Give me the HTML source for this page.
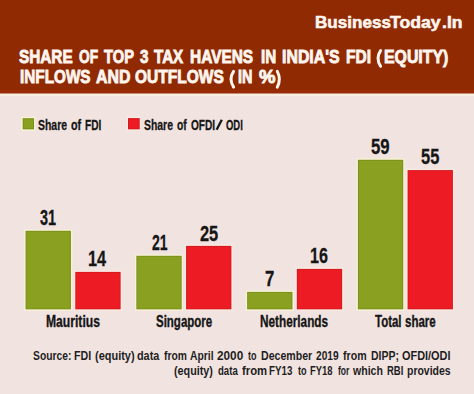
<!DOCTYPE html>
<html><head><meta charset="utf-8">
<style>
html,body{margin:0;padding:0}
body{width:474px;height:394px;position:relative;overflow:hidden;background:#f1e3e0;font-family:"Liberation Sans",sans-serif}
.hdr{position:absolute;left:0;top:0;width:474px;height:93px;background:#8f2a02}
.w{position:absolute;white-space:nowrap;transform-origin:0 0;line-height:1}
.b{position:absolute}
.g{background:#8aa020;box-shadow:0 0 0 1px rgba(246,248,205,.75),inset 0 0 0 1px rgba(60,70,0,.12)}
.r{background:#ed1c24;box-shadow:0 0 0 1px rgba(255,236,230,.75),inset 0 0 0 1px rgba(90,0,0,.12)}
</style></head><body>
<div class="hdr"></div>
<div class="b" style="left:0;top:90px;width:474px;height:3px;background:#982a08"></div>
<div class="b" style="left:0;top:93px;width:474px;height:1px;background:#c48a72"></div>
<div class="b" style="left:0;top:94px;width:474px;height:2px;background:#f8efe2"></div>
<svg style="position:absolute;left:0;top:0" width="474" height="394">
<rect x="24.20" y="229.40" width="48.10" height="81.30" fill="#f7f6d2" opacity=".8"/>
<rect x="25.60" y="230.80" width="45.30" height="78.50" fill="#8aa020"/>
<rect x="26.10" y="231.30" width="44.30" height="77.50" fill="none" stroke="#000" stroke-opacity=".10" stroke-width="1"/>
<rect x="73.90" y="270.50" width="48.10" height="40.20" fill="#fdebe2" opacity=".8"/>
<rect x="75.30" y="271.90" width="45.30" height="37.40" fill="#ed1c24"/>
<rect x="75.80" y="272.40" width="44.30" height="36.40" fill="none" stroke="#000" stroke-opacity=".10" stroke-width="1"/>
<rect x="134.97" y="254.40" width="48.10" height="56.30" fill="#f7f6d2" opacity=".8"/>
<rect x="136.37" y="255.80" width="45.30" height="53.50" fill="#8aa020"/>
<rect x="136.87" y="256.30" width="44.30" height="52.50" fill="none" stroke="#000" stroke-opacity=".10" stroke-width="1"/>
<rect x="184.67" y="244.50" width="48.10" height="66.20" fill="#fdebe2" opacity=".8"/>
<rect x="186.07" y="245.90" width="45.30" height="63.40" fill="#ed1c24"/>
<rect x="186.57" y="246.40" width="44.30" height="62.40" fill="none" stroke="#000" stroke-opacity=".10" stroke-width="1"/>
<rect x="245.74" y="290.50" width="48.10" height="20.20" fill="#f7f6d2" opacity=".8"/>
<rect x="247.14" y="291.90" width="45.30" height="17.40" fill="#8aa020"/>
<rect x="247.64" y="292.40" width="44.30" height="16.40" fill="none" stroke="#000" stroke-opacity=".10" stroke-width="1"/>
<rect x="295.44" y="267.50" width="48.10" height="43.20" fill="#fdebe2" opacity=".8"/>
<rect x="296.84" y="268.90" width="45.30" height="40.40" fill="#ed1c24"/>
<rect x="297.34" y="269.40" width="44.30" height="39.40" fill="none" stroke="#000" stroke-opacity=".10" stroke-width="1"/>
<rect x="356.51" y="158.40" width="48.10" height="152.30" fill="#f7f6d2" opacity=".8"/>
<rect x="357.91" y="159.80" width="45.30" height="149.50" fill="#8aa020"/>
<rect x="358.41" y="160.30" width="44.30" height="148.50" fill="none" stroke="#000" stroke-opacity=".10" stroke-width="1"/>
<rect x="406.21" y="168.70" width="48.10" height="142.00" fill="#fdebe2" opacity=".8"/>
<rect x="407.61" y="170.10" width="45.30" height="139.20" fill="#ed1c24"/>
<rect x="408.11" y="170.60" width="44.30" height="138.20" fill="none" stroke="#000" stroke-opacity=".10" stroke-width="1"/>
<rect x="21.30" y="116.80" width="14.10" height="13.90" fill="#f7f6d2" opacity=".8"/>
<rect x="22.70" y="118.20" width="11.30" height="11.10" fill="#8aa020"/>
<rect x="23.20" y="118.70" width="10.30" height="10.10" fill="none" stroke="#000" stroke-opacity=".10" stroke-width="1"/>
<rect x="126.60" y="116.70" width="14.50" height="14.00" fill="#fdebe2" opacity=".8"/>
<rect x="128.00" y="118.10" width="11.70" height="11.20" fill="#ed1c24"/>
<rect x="128.50" y="118.60" width="10.70" height="10.20" fill="none" stroke="#000" stroke-opacity=".10" stroke-width="1"/>
<line x1="216.6" y1="129.8" x2="221.8" y2="119.8" stroke="#161616" stroke-width="2.3"/>
<path d="M380.6 50.6 Q375.4 58.4 380.6 66.3" fill="none" stroke="#fdf5ee" stroke-width="3" stroke-linecap="round"/>
<path d="M233.6 71.4 Q228.4 79.2 233.6 87.1" fill="none" stroke="#fdf5ee" stroke-width="3" stroke-linecap="round"/>
<path d="M277.3 71.4 Q281.4 79.2 277.3 87.1" fill="none" stroke="#fdf5ee" stroke-width="3" stroke-linecap="round"/>
</svg>
<span class="w" style="left:315.00px;top:13.90px;font-size:16.3px;font-weight:700;color:#fdf5ee;transform:scaleX(1.0500);-webkit-text-stroke:0.55px #fdf5ee">Business</span>
<span class="w" style="left:390.10px;top:13.90px;font-size:16.3px;font-weight:700;color:#fdf5ee;transform:scaleX(1.0830);-webkit-text-stroke:0.55px #fdf5ee">Today</span>
<span class="w" style="left:441.60px;top:13.90px;font-size:16.3px;font-weight:700;color:#fdf5ee;transform:scaleX(1.0789);-webkit-text-stroke:0.55px #fdf5ee">.In</span>
<span class="w" style="left:19.30px;top:46.90px;font-size:19.1px;font-weight:700;color:#fdf5ee;transform:scaleX(0.8030);-webkit-text-stroke:0.9px #fdf5ee">SHARE</span>
<span class="w" style="left:78.60px;top:46.90px;font-size:19.1px;font-weight:700;color:#fdf5ee;transform:scaleX(0.7185);-webkit-text-stroke:0.9px #fdf5ee">OF</span>
<span class="w" style="left:103.77px;top:46.90px;font-size:19.1px;font-weight:700;color:#fdf5ee;transform:scaleX(0.7700);-webkit-text-stroke:0.9px #fdf5ee">TOP</span>
<span class="w" style="left:140.20px;top:46.90px;font-size:19.1px;font-weight:700;color:#fdf5ee;transform:scaleX(0.8000);-webkit-text-stroke:0.9px #fdf5ee">3</span>
<span class="w" style="left:154.19px;top:46.90px;font-size:19.1px;font-weight:700;color:#fdf5ee;transform:scaleX(0.7947);-webkit-text-stroke:0.9px #fdf5ee">TAX</span>
<span class="w" style="left:189.80px;top:46.90px;font-size:19.1px;font-weight:700;color:#fdf5ee;transform:scaleX(0.8077);-webkit-text-stroke:0.9px #fdf5ee">HAVENS</span>
<span class="w" style="left:260.90px;top:46.90px;font-size:19.1px;font-weight:700;color:#fdf5ee;transform:scaleX(0.7947);-webkit-text-stroke:0.9px #fdf5ee">IN</span>
<span class="w" style="left:281.90px;top:46.90px;font-size:19.1px;font-weight:700;color:#fdf5ee;transform:scaleX(0.8319);-webkit-text-stroke:0.9px #fdf5ee">INDIA'S</span>
<span class="w" style="left:346.10px;top:46.90px;font-size:19.1px;font-weight:700;color:#fdf5ee;transform:scaleX(0.8133);-webkit-text-stroke:0.9px #fdf5ee">FDI</span>
<span class="w" style="left:383.60px;top:46.90px;font-size:19.1px;font-weight:700;color:#fdf5ee;transform:scaleX(0.8299);-webkit-text-stroke:0.9px #fdf5ee">EQUITY)</span>
<span class="w" style="left:20.10px;top:67.10px;font-size:19.1px;font-weight:700;color:#fdf5ee;transform:scaleX(0.8011);-webkit-text-stroke:0.9px #fdf5ee">INFLOWS</span>
<span class="w" style="left:96.10px;top:67.10px;font-size:19.1px;font-weight:700;color:#fdf5ee;transform:scaleX(0.8317);-webkit-text-stroke:0.9px #fdf5ee">AND</span>
<span class="w" style="left:135.30px;top:67.10px;font-size:19.1px;font-weight:700;color:#fdf5ee;transform:scaleX(0.8128);-webkit-text-stroke:0.9px #fdf5ee">OUTFLOWS</span>
<span class="w" style="left:237.80px;top:67.10px;font-size:19.1px;font-weight:700;color:#fdf5ee;transform:scaleX(0.7579);-webkit-text-stroke:0.9px #fdf5ee">IN</span>
<span class="w" style="left:258.50px;top:67.10px;font-size:19.1px;font-weight:700;color:#fdf5ee;transform:scaleX(0.9706);-webkit-text-stroke:0.9px #fdf5ee">%</span>
<span class="w" style="left:38.40px;top:117.20px;font-size:15.3px;font-weight:700;color:#161616;transform:scaleX(0.6837);-webkit-text-stroke:0.3px #161616">Share</span>
<span class="w" style="left:70.75px;top:117.20px;font-size:15.3px;font-weight:700;color:#161616;transform:scaleX(0.7033);-webkit-text-stroke:0.3px #161616">of</span>
<span class="w" style="left:84.84px;top:117.20px;font-size:15.3px;font-weight:700;color:#161616;transform:scaleX(0.6609);-webkit-text-stroke:0.3px #161616">FDI</span>
<span class="w" style="left:144.20px;top:117.20px;font-size:15.3px;font-weight:700;color:#161616;transform:scaleX(0.6814);-webkit-text-stroke:0.3px #161616">Share</span>
<span class="w" style="left:176.90px;top:117.20px;font-size:15.3px;font-weight:700;color:#161616;transform:scaleX(0.6733);-webkit-text-stroke:0.3px #161616">of</span>
<span class="w" style="left:191.00px;top:117.20px;font-size:15.3px;font-weight:700;color:#161616;transform:scaleX(0.6611);-webkit-text-stroke:0.3px #161616">OFDI</span>
<span class="w" style="left:226.20px;top:117.20px;font-size:15.3px;font-weight:700;color:#161616;transform:scaleX(0.6185);-webkit-text-stroke:0.3px #161616">ODI</span>
<span class="w" style="left:40.00px;top:207.00px;font-size:22.6px;font-weight:700;color:#161616;transform:scaleX(0.6400);-webkit-text-stroke:0.3px #161616">31</span>
<span class="w" style="left:88.28px;top:248.00px;font-size:22.6px;font-weight:700;color:#161616;transform:scaleX(0.7200);-webkit-text-stroke:0.3px #161616">14</span>
<span class="w" style="left:152.10px;top:232.00px;font-size:22.6px;font-weight:700;color:#161616;transform:scaleX(0.6200);-webkit-text-stroke:0.3px #161616">21</span>
<span class="w" style="left:199.75px;top:223.10px;font-size:22.6px;font-weight:700;color:#161616;transform:scaleX(0.7260);-webkit-text-stroke:0.3px #161616">25</span>
<span class="w" style="left:265.30px;top:267.80px;font-size:22.6px;font-weight:700;color:#161616;transform:scaleX(0.7417);-webkit-text-stroke:0.3px #161616">7</span>
<span class="w" style="left:310.29px;top:245.10px;font-size:22.6px;font-weight:700;color:#161616;transform:scaleX(0.7125);-webkit-text-stroke:0.3px #161616">16</span>
<span class="w" style="left:371.30px;top:136.20px;font-size:22.6px;font-weight:700;color:#161616;transform:scaleX(0.7400);-webkit-text-stroke:0.3px #161616">59</span>
<span class="w" style="left:421.30px;top:145.80px;font-size:22.6px;font-weight:700;color:#161616;transform:scaleX(0.7280);-webkit-text-stroke:0.3px #161616">55</span>
<span class="w" style="left:46.14px;top:313.90px;font-size:16px;font-weight:700;color:#161616;transform:scaleX(0.7586);-webkit-text-stroke:0.35px #161616">Mauritius</span>
<span class="w" style="left:155.90px;top:313.90px;font-size:16px;font-weight:700;color:#161616;transform:scaleX(0.7179);-webkit-text-stroke:0.35px #161616">Singapore</span>
<span class="w" style="left:260.16px;top:313.90px;font-size:16px;font-weight:700;color:#161616;transform:scaleX(0.7363);-webkit-text-stroke:0.35px #161616">Netherlands</span>
<span class="w" style="left:375.10px;top:313.90px;font-size:16px;font-weight:700;color:#161616;transform:scaleX(0.7167);-webkit-text-stroke:0.35px #161616">Total</span>
<span class="w" style="left:405.30px;top:313.90px;font-size:16px;font-weight:700;color:#161616;transform:scaleX(0.7186);-webkit-text-stroke:0.35px #161616">share</span>
<span class="w" style="left:33.20px;top:349.50px;font-size:12.9px;font-weight:700;color:#1e1e1e;transform:scaleX(0.8000)">Source:</span>
<span class="w" style="left:74.17px;top:349.50px;font-size:12.9px;font-weight:700;color:#1e1e1e;transform:scaleX(0.8263)">FDI</span>
<span class="w" style="left:94.50px;top:349.50px;font-size:12.9px;font-weight:700;color:#1e1e1e;transform:scaleX(0.8500)">(equity)</span>
<span class="w" style="left:137.40px;top:349.50px;font-size:12.9px;font-weight:700;color:#1e1e1e;transform:scaleX(0.8407)">data</span>
<span class="w" style="left:163.50px;top:349.50px;font-size:12.9px;font-weight:700;color:#1e1e1e;transform:scaleX(0.8000)">from</span>
<span class="w" style="left:190.10px;top:349.50px;font-size:12.9px;font-weight:700;color:#1e1e1e;transform:scaleX(0.8000)">April</span>
<span class="w" style="left:216.60px;top:349.50px;font-size:12.9px;font-weight:700;color:#1e1e1e;transform:scaleX(0.9138)">2000</span>
<span class="w" style="left:248.20px;top:349.50px;font-size:12.9px;font-weight:700;color:#1e1e1e;transform:scaleX(0.7000)">to</span>
<span class="w" style="left:261.28px;top:349.50px;font-size:12.9px;font-weight:700;color:#1e1e1e;transform:scaleX(0.8213)">December</span>
<span class="w" style="left:316.40px;top:349.50px;font-size:12.9px;font-weight:700;color:#1e1e1e;transform:scaleX(0.7862)">2019</span>
<span class="w" style="left:343.40px;top:349.50px;font-size:12.9px;font-weight:700;color:#1e1e1e;transform:scaleX(0.8250)">from</span>
<span class="w" style="left:370.69px;top:349.50px;font-size:12.9px;font-weight:700;color:#1e1e1e;transform:scaleX(0.8125)">DIPP;</span>
<span class="w" style="left:401.80px;top:349.50px;font-size:12.9px;font-weight:700;color:#1e1e1e;transform:scaleX(0.8456)">OFDI/ODI</span>
<span class="w" style="left:174.30px;top:365.30px;font-size:12.9px;font-weight:700;color:#1e1e1e;transform:scaleX(0.8370)">(equity)</span>
<span class="w" style="left:217.60px;top:365.30px;font-size:12.9px;font-weight:700;color:#1e1e1e;transform:scaleX(0.7444)">data</span>
<span class="w" style="left:241.90px;top:365.30px;font-size:12.9px;font-weight:700;color:#1e1e1e;transform:scaleX(0.8786)">from</span>
<span class="w" style="left:269.34px;top:365.30px;font-size:12.9px;font-weight:700;color:#1e1e1e;transform:scaleX(0.7567)">FY13</span>
<span class="w" style="left:297.50px;top:365.30px;font-size:12.9px;font-weight:700;color:#1e1e1e;transform:scaleX(0.7083)">to</span>
<span class="w" style="left:310.17px;top:365.30px;font-size:12.9px;font-weight:700;color:#1e1e1e;transform:scaleX(0.7300)">FY18</span>
<span class="w" style="left:337.50px;top:365.30px;font-size:12.9px;font-weight:700;color:#1e1e1e;transform:scaleX(0.6647)">for</span>
<span class="w" style="left:353.00px;top:365.30px;font-size:12.9px;font-weight:700;color:#1e1e1e;transform:scaleX(0.8194)">which</span>
<span class="w" style="left:386.87px;top:365.30px;font-size:12.9px;font-weight:700;color:#1e1e1e;transform:scaleX(0.7333)">RBI</span>
<span class="w" style="left:406.99px;top:365.30px;font-size:12.9px;font-weight:700;color:#1e1e1e;transform:scaleX(0.8115)">provides</span>
</body></html>
